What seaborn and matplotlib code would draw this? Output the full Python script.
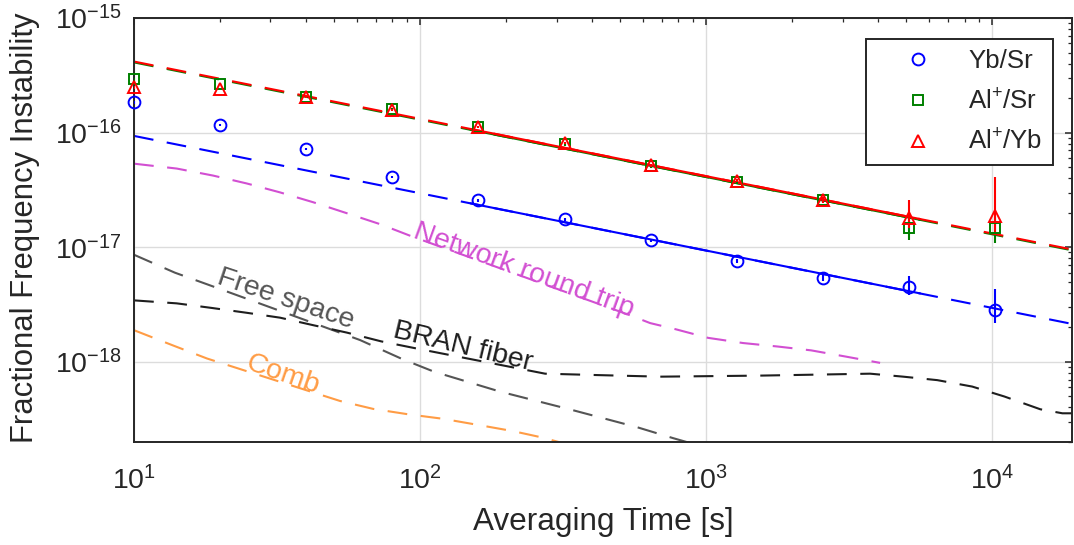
import matplotlib
matplotlib.use("Agg")
import matplotlib.pyplot as plt
import seaborn as sns
import pandas as pd
from matplotlib.lines import Line2D
from matplotlib.ticker import LogLocator, LogFormatterMathtext, NullFormatter, FixedLocator

# ---------------- data ----------------
tau = [10, 20, 40, 80, 160, 320, 640, 1280, 2560, 5120, 10240]

yb_sr = [1.84e-16, 1.17e-16, 7.2e-17, 4.1e-17, 2.57e-17, 1.76e-17, 1.15e-17, 7.6e-18, 5.4e-18, 4.46e-18, 2.82e-18]
yb_sr_lo = [0.05e-16, 0.03e-16, 0.2e-17, 0.1e-17, 0.07e-17, 0.05e-17, 0.04e-17, 0.3e-18, 0.35e-18, 0.66e-18, 0.64e-18]
yb_sr_hi = [0.05e-16, 0.03e-16, 0.2e-17, 0.1e-17, 0.07e-17, 0.05e-17, 0.04e-17, 0.3e-18, 0.35e-18, 1.2e-18, 1.46e-18]

al_sr = [2.91e-16, 2.64e-16, 2.04e-16, 1.6e-16, 1.12e-16, 7.9e-17, 5.1e-17, 3.7e-17, 2.57e-17, 1.47e-17, 1.47e-17]
al_sr_lo = [0.08e-16, 0.06e-16, 0.05e-16, 0.04e-16, 0.03e-16, 0.2e-17, 0.15e-17, 0.12e-17, 0.1e-17, 0.32e-17, 0.37e-17]
al_sr_hi = [0.08e-16, 0.06e-16, 0.05e-16, 0.04e-16, 0.03e-16, 0.2e-17, 0.15e-17, 0.12e-17, 0.1e-17, 0.33e-17, 0.4e-17]

al_yb = [2.48e-16, 2.40e-16, 2.04e-16, 1.58e-16, 1.12e-16, 8.1e-17, 5.2e-17, 3.8e-17, 2.57e-17, 1.8e-17, 1.87e-17]
al_yb_lo = [0.08e-16, 0.06e-16, 0.05e-16, 0.04e-16, 0.03e-16, 0.2e-17, 0.15e-17, 0.12e-17, 0.15e-17, 0.33e-17, 0.6e-17]
al_yb_hi = [0.08e-16, 0.06e-16, 0.05e-16, 0.04e-16, 0.03e-16, 0.2e-17, 0.15e-17, 0.12e-17, 0.2e-17, 0.77e-17, 2.27e-17]

# white-noise fits: full (dashed) span and fitted (solid) span
fit_tau = [10, 20000]
fit_solid_tau = [150, 5600]
fit_yb_sr = [9.36e-17, 2.09e-18]
fit_yb_sr_solid = [2.417e-17, 3.955e-18]
fit_al_sr = [4.10e-16, 9.17e-18]
fit_al_sr_solid = [1.059e-16, 1.733e-17]
fit_al_yb = [4.17e-16, 9.32e-18]
fit_al_yb_solid = [1.077e-16, 1.762e-17]

# noise floors
net_tau = [10, 14.1, 18.9, 24.8, 32.4, 42.3, 55.5, 72.5, 92.3, 542, 637, 780, 1016, 1346, 1785, 2329, 3090, 4055]
net_y = [5.36e-17, 4.86e-17, 4.22e-17, 3.6e-17, 3.01e-17, 2.47e-17, 1.98e-17, 1.59e-17, 1.26e-17,
         2.55e-18, 2.18e-18, 1.93e-18, 1.62e-18, 1.46e-18, 1.36e-18, 1.26e-18, 1.11e-18, 9.8e-19]

free_tau = [10, 13.9, 18.1, 61.7, 86.5, 112, 190.5, 334, 574, 767, 953]
free_y = [8.6e-18, 6.0e-18, 4.73e-18, 1.55e-18, 1.06e-18, 8.2e-19, 5.5e-19, 3.85e-19, 2.69e-19, 2.16e-19, 1.85e-19]

bran_tau = [10, 14.1, 18.6, 24.8, 32.4, 42.3, 55.5, 73.1, 100, 273.5, 426, 690, 1545, 3740, 4885, 6425, 8510, 11020, 14720, 17590, 20000]
bran_y = [3.44e-18, 3.24e-18, 2.96e-18, 2.68e-18, 2.43e-18, 2.09e-18, 1.80e-18, 1.51e-18, 1.29e-18, 7.89e-19,
          7.66e-19, 7.43e-19, 7.59e-19, 7.89e-19, 7.43e-19, 6.93e-19, 6.09e-19, 4.99e-19, 3.86e-19, 3.56e-19, 3.56e-19]

comb_tau = [10, 13.7, 18.0, 52.5, 68.5, 90.8, 120, 158, 211, 267, 334]
comb_y = [1.89e-18, 1.39e-18, 1.07e-18, 4.56e-19, 3.89e-19, 3.49e-19, 3.19e-19, 2.83e-19, 2.49e-19, 2.19e-19, 1.88e-19]

x_ticks = [1e1, 1e2, 1e3, 1e4]
y_ticks = [1e-18, 1e-17, 1e-16, 1e-15]

series_labels = ["Yb/Sr", "Al$^{+}$/Sr", "Al$^{+}$/Yb"]
curve_labels = ["Network round trip", "Free space", "BRAN fiber", "Comb"]

# ---------------- style ----------------
sns.set_theme(style="white")
plt.rcParams["font.family"] = ["Liberation Sans", "DejaVu Sans"]
plt.rcParams["mathtext.fontset"] = "custom"
plt.rcParams["mathtext.rm"] = "Liberation Sans"
plt.rcParams["mathtext.it"] = "Liberation Sans:italic"
plt.rcParams["mathtext.default"] = "regular"
plt.rcParams["axes.unicode_minus"] = False

TXT = "#262626"
BLUE, GREEN, RED = "#0000ff", "#008000", "#ff0000"
MAG, GRAY, BLK, ORG = "#d24fd2", "#555555", "#1e1e1e", "#ff9c45"
DASH = (0, (9.5, 6.5))

fig = plt.figure(figsize=(10.74, 5.45), dpi=100)
ax = fig.add_axes([134 / 1074, 103 / 545, 938 / 1074, 424 / 545])
ax.set_xscale("log")
ax.set_yscale("log")

# noise curves
for t, v, c in [(net_tau, net_y, MAG), (free_tau, free_y, GRAY), (bran_tau, bran_y, BLK), (comb_tau, comb_y, ORG)]:
    sns.lineplot(x=t, y=v, ax=ax, color=c, lw=1.5, linestyle=DASH, estimator=None, sort=False, legend=False)

# fit lines
for full, solid, c in [(fit_yb_sr, fit_yb_sr_solid, BLUE), (fit_al_sr, fit_al_sr_solid, GREEN), (fit_al_yb, fit_al_yb_solid, RED)]:
    sns.lineplot(x=fit_tau, y=full, ax=ax, color=c, lw=1.5, linestyle=DASH, estimator=None, sort=False, legend=False)
    sns.lineplot(x=fit_solid_tau, y=solid, ax=ax, color=c, lw=1.5, estimator=None, sort=False, legend=False)

# data points
specs = [
    (yb_sr, yb_sr_lo, yb_sr_hi, BLUE, "o", 8.5),
    (al_sr, al_sr_lo, al_sr_hi, GREEN, "s", 6.5),
    (al_yb, al_yb_lo, al_yb_hi, RED, "^", 9),
]
handles = []
for (vals, lo, hi, c, m, ms), lab in zip(specs, series_labels):
    eb = ax.errorbar(tau, vals, yerr=[lo, hi], fmt=m, mfc="none", mec=c, ecolor=c, ms=ms, mew=1.4,
                     elinewidth=1.5, capsize=0, zorder=5)
    eb[0].set_clip_on(False)
    handles.append(Line2D([], [], ls="none", marker=m, mfc="none", mec=c, ms=ms, mew=1.4, label=lab))

# curve annotations
ann = [
    (curve_labels[0], 93.8, 1.23e-17, -20, MAG),
    (curve_labels[1], 19.4, 4.83e-18, -18.5, GRAY),
    (curve_labels[2], 79.8, 1.65e-18, -13.5, BLK),
    (curve_labels[3], 24.3, 8.7e-19, -19, ORG),
]
for s, x, y, rot, c in ann:
    ax.text(x, y, s, color=c, fontsize=20.5, rotation=rot, rotation_mode="anchor",
            ha="left", va="baseline", zorder=4)

# axes
ax.set_xlim(10, 1.9e4)
ax.set_ylim(2e-19, 1e-15)
ax.xaxis.set_major_locator(FixedLocator(x_ticks))
ax.xaxis.set_minor_locator(LogLocator(base=10, subs=range(2, 10), numticks=20))
ax.yaxis.set_major_locator(FixedLocator(y_ticks))
ax.yaxis.set_minor_locator(LogLocator(base=10, subs=range(2, 10), numticks=20))
ax.xaxis.set_major_formatter(LogFormatterMathtext())
ax.yaxis.set_major_formatter(LogFormatterMathtext())
ax.xaxis.set_minor_formatter(NullFormatter())
ax.yaxis.set_minor_formatter(NullFormatter())
ax.tick_params(which="both", direction="in", top=True, right=True, colors=TXT, labelsize=20.5)
ax.tick_params(which="major", length=5, width=1.1)
ax.tick_params(axis="y", which="major", pad=9)
ax.tick_params(axis="x", which="major", pad=17)
ax.tick_params(which="minor", length=3, width=0.9)
ax.grid(True, which="major", color="#dcdcdc", lw=1.0)
ax.grid(False, which="minor")
ax.set_axisbelow(True)
for sp in ax.spines.values():
    sp.set_color(TXT)
    sp.set_linewidth(1.4)

ax.set_xlabel("Averaging Time [s]", fontsize=22.7, color=TXT, labelpad=9)
ax.set_ylabel("Fractional Frequency Instability", fontsize=22.3, color=TXT, labelpad=8)
ax.yaxis.set_label_coords(-0.1, 0.505)

leg = ax.legend(handles=handles, loc="upper right", bbox_to_anchor=(1053 / 1074, 1 - 39 / 545),
                bbox_transform=fig.transFigure, fontsize=18.6, frameon=True, fancybox=False,
                borderpad=0.4, handlelength=3.2, handletextpad=0.35, labelspacing=0.6,
                borderaxespad=0)
leg.get_frame().set_edgecolor(TXT)
leg.get_frame().set_linewidth(1.4)
leg.get_frame().set_alpha(1)
for t in leg.get_texts():
    t.set_color(TXT)

fig.savefig("out.png", dpi=100)
